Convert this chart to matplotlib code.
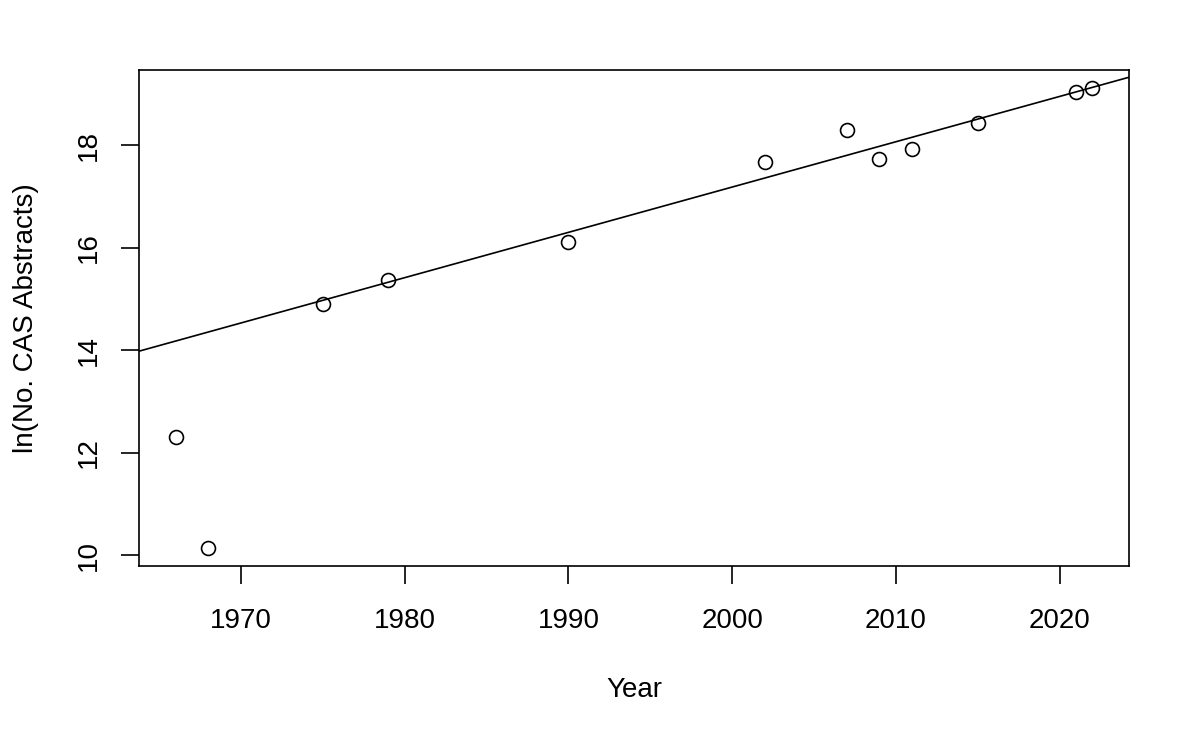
import numpy as np
import matplotlib.pyplot as plt

plt.rcParams['font.family'] = ['Liberation Sans', 'DejaVu Sans']

years = [1966, 1968, 1975, 1979, 1990, 2002, 2007, 2009, 2011, 2015, 2021, 2022]
ln_abstracts = [12.31, 10.15, 14.90, 15.38, 16.12, 17.67, 18.30, 17.73, 17.92, 18.43, 19.03, 19.11]
x_ticks = [1970, 1980, 1990, 2000, 2010, 2020]
y_ticks = [10, 12, 14, 16, 18]

# regression line fitted without the two earliest points
fit_years = np.array(years[2:])
fit_vals = np.array(ln_abstracts[2:])
slope, intercept = np.polyfit(fit_years, fit_vals, 1)

fig = plt.figure(figsize=(12, 7.41), dpi=100)
ax = fig.add_axes([0.1158, 0.2362, 0.825, 0.6693])

ax.plot(years, ln_abstracts, 'o', markerfacecolor='none', markeredgecolor='black',
        markersize=10, markeredgewidth=1.2)

# R-style 4% padding of the axis range
xr = max(years) - min(years)
yr = max(ln_abstracts) - min(ln_abstracts)
xlim = (min(years) - 0.04 * xr, max(years) + 0.04 * xr)
ylim = (min(ln_abstracts) - 0.04 * yr, max(ln_abstracts) + 0.04 * yr)
ax.set_xlim(xlim)
ax.set_ylim(ylim)

xs = np.array(xlim)
ax.plot(xs, intercept + slope * xs, color='black', linewidth=1.2)

ax.set_xticks(x_ticks)
ax.set_yticks(y_ticks)
ax.set_yticklabels([str(v) for v in y_ticks], rotation=90, va='center')
ax.tick_params(axis='both', length=13, width=1.2, labelsize=20)
ax.tick_params(axis='x', pad=17)
ax.tick_params(axis='y', pad=14)
for s in ax.spines.values():
    s.set_linewidth(1.2)

ax.set_xlabel("Year", fontsize=20, labelpad=31)
ax.set_ylabel("ln(No. CAS Abstracts)", fontsize=20, labelpad=26)

fig.savefig("out.png", dpi=100)
